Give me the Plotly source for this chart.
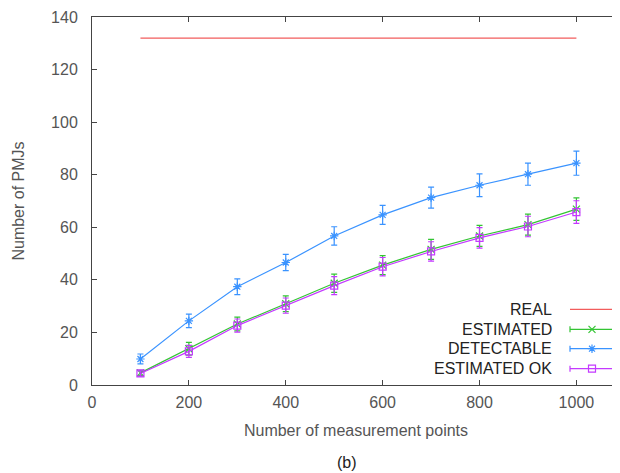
import plotly.graph_objects as go

# ---- data ----
x_points = [100, 200, 300, 400, 500, 600, 700, 800, 900, 1000]
real_vals = [132] * 10
estimated = [4.6, 13.8, 23.2, 30.9, 38.7, 45.6, 51.6, 56.7, 61.0, 66.9]
estimated_err = [1.0, 2.4, 2.6, 3.0, 3.5, 3.6, 3.8, 4.0, 4.0, 4.3]
detectable = [9.9, 24.4, 37.4, 46.6, 56.7, 64.7, 71.3, 76.0, 80.2, 84.4]
detectable_err = [1.9, 2.6, 3.0, 3.1, 3.5, 3.6, 4.0, 4.3, 4.2, 4.6]
estimated_ok = [4.4, 12.8, 22.6, 30.2, 37.8, 45.0, 50.8, 56.0, 60.3, 65.8]
estimated_ok_err = [1.0, 2.3, 2.5, 2.9, 3.4, 3.5, 3.7, 3.9, 3.9, 4.3]

x_ticks = [0, 200, 400, 600, 800, 1000]
y_ticks = [0, 20, 40, 60, 80, 100, 120, 140]

series_names = ["REAL", "ESTIMATED", "DETECTABLE", "ESTIMATED OK"]
colors = ["#f25c5c", "#33c433", "#3a93ff", "#c43aff"]
symbols = [None, "x-thin", "asterisk-open", "square-open"]

FONT = "Liberation Sans, Arial, sans-serif"

OFF = 8  # page body margin of the HTML page
W, H = 620 - OFF, 473 - OFF
ML, MR, MT, MB = 92 - OFF, 0, 17 - OFF, 88
PH = H - MT - MB

fig = go.Figure()

fig.add_trace(go.Scatter(x=x_points, y=real_vals, mode="lines",
                         line=dict(color=colors[0], width=1.2), showlegend=False))

def err_trace(y, e, color, symbol):
    return go.Scatter(
        x=x_points, y=y, mode="lines+markers",
        line=dict(color=color, width=1.2),
        marker=dict(symbol=symbol, size=7, color=color,
                    line=dict(color=color, width=1.2)),
        error_y=dict(type="data", array=e, visible=True, color=color,
                     thickness=1.2, width=3),
        showlegend=False)

fig.add_trace(err_trace(estimated, estimated_err, colors[1], symbols[1]))
fig.add_trace(err_trace(detectable, detectable_err, colors[2], symbols[2]))
fig.add_trace(err_trace(estimated_ok, estimated_ok_err, colors[3], symbols[3]))

# ---- manual legend (text left of sample, gnuplot style) ----
# overlay axis in page-pixel coordinates for the legend glyphs
leg_rows = [309.3, 329.3, 348.7, 368.7]
leg_x0, leg_x1, leg_xm, leg_text_x = 570, 615, 592, 554
for i, name in enumerate(series_names):
    yy = leg_rows[i]
    fig.add_annotation(x=leg_text_x, y=yy, xref="x2", yref="y2", text=name,
                       showarrow=False, xanchor="right", yanchor="middle",
                       font=dict(family=FONT, size=16, color="#222222"))
    fig.add_shape(type="line", xref="x2", yref="y2", x0=leg_x0, x1=leg_x1,
                  y0=yy, y1=yy, line=dict(color=colors[i], width=1.2))
    if i > 0:
        for cx in (leg_x0, leg_x1):
            fig.add_shape(type="line", xref="x2", yref="y2", x0=cx, x1=cx,
                          y0=yy - 3, y1=yy + 3, line=dict(color=colors[i], width=1.2))
        fig.add_trace(go.Scatter(x=[leg_xm], y=[yy], xaxis="x2", yaxis="y2",
                                 mode="markers", showlegend=False, hoverinfo="skip",
                                 cliponaxis=False,
                                 marker=dict(symbol=symbols[i], size=7, color=colors[i],
                                             line=dict(color=colors[i], width=1.2))))

fig.update_layout(
    width=W, height=H,
    margin=dict(l=ML, r=MR, t=MT, b=MB, autoexpand=False),
    paper_bgcolor="white", plot_bgcolor="white",
    font=dict(family=FONT, size=16, color="#555555"),
    xaxis=dict(range=[0, 1090], tickvals=x_ticks, ticks="inside", ticklen=5,
               tickcolor="#444", showline=True, linecolor="#444", linewidth=1,
               mirror="ticks", showgrid=False, zeroline=False, automargin=False,
               tickfont=dict(size=16, color="#555555"), ticklabelstandoff=3,
               title=dict(text="Number of measurement points", standoff=14,
                          font=dict(size=16, color="#555555"))),
    yaxis=dict(range=[0, 140], tickvals=y_ticks, ticks="inside", ticklen=5,
               tickcolor="#444", showline=True, linecolor="#444", linewidth=1,
               mirror=False, showgrid=False, zeroline=False, automargin=False,
               tickfont=dict(size=16, color="#555555"), ticklabelstandoff=10,
               title=dict(text="Number of PMJs", standoff=22,
                          font=dict(size=16, color="#555555"))),
    xaxis2=dict(range=[ML + OFF, W - MR + OFF], overlaying="x", visible=False,
                domain=[0, 1], automargin=False),
    yaxis2=dict(range=[H - MB + OFF, MT + OFF], overlaying="y", visible=False,
                domain=[0, 1], automargin=False),
    showlegend=False,
)

# panel label "(b)" below the axis title (page pixel 347, 462)
fig.add_annotation(x=(347 - OFF - ML) / (W - ML - MR), y=(H - MB - (462 - OFF)) / PH,
                   xref="paper", yref="paper", text="(b)", showarrow=False,
                   xanchor="center", yanchor="middle",
                   font=dict(family=FONT, size=16, color="#222222"))

fig.write_html("out.html")
